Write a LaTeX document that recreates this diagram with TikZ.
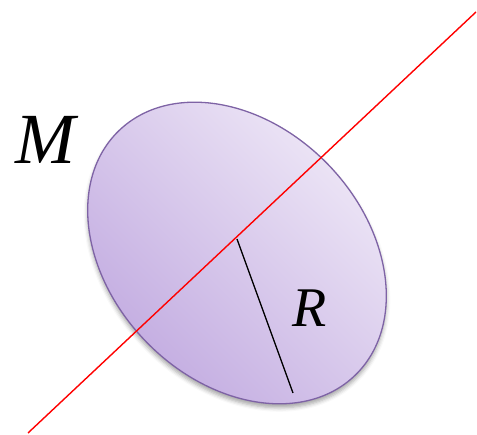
\documentclass[tikz,border=0pt]{standalone}
\usepackage{fontspec}
\setmainfont{Liberation Serif}
\usetikzlibrary{shadows.blur}
\definecolor{lite}{HTML}{F1EBF8}
\definecolor{dark}{HTML}{BFA7DF}
\definecolor{rim}{HTML}{7E63A5}
\begin{document}
\begin{tikzpicture}[x=1pt,y=-1pt,
  lbl/.style={font=\itshape, inner sep=0pt},
  axisline/.style={red, line width=1.4pt},
  radline/.style={black, line width=1.3pt}]
\useasboundingbox (0,0) rectangle (477,435);
\coordinate (c) at (237,253);
\coordinate (la) at (28,433);
\coordinate (lb) at (476,12);
\coordinate (r0) at (237,239);
\coordinate (r1) at (293,393);
\path[shift={(c)}, rotate=-46, draw=rim, line width=1.3pt,
  top color=lite, bottom color=dark, shading angle=-45,
  blur shadow={shadow xshift=0pt, shadow yshift=-4pt, shadow blur radius=4pt, shadow opacity=35}]
  (0,0) ellipse [x radius=170pt, y radius=127pt];
\draw[axisline] (la) -- (lb);
\draw[radline] (r0) -- (r1);
\node[lbl, font=\fontsize{72}{72}\selectfont\itshape] (M) at (45,140) {M};
\node[lbl, font=\fontsize{56}{56}\selectfont\itshape] (R) at (310,308) {R};
\end{tikzpicture}
\end{document}
